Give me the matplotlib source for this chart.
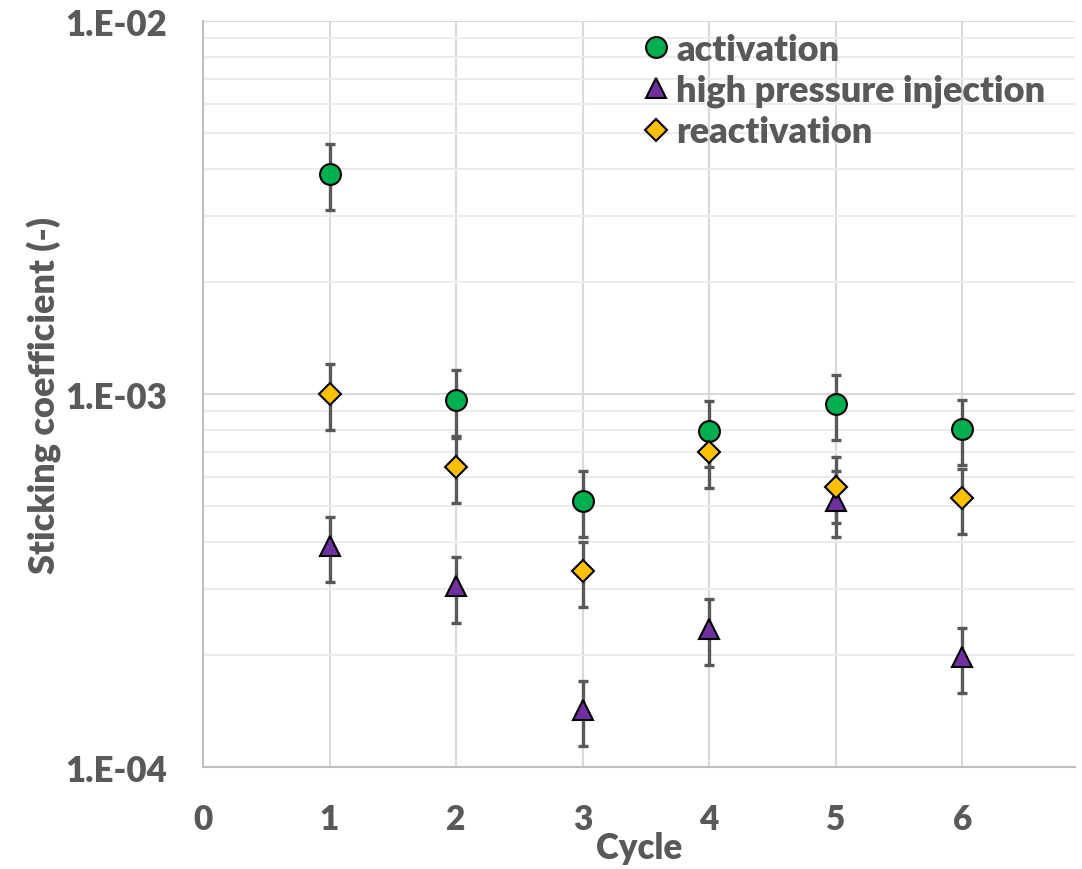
import numpy as np
import matplotlib
matplotlib.use("Agg")
import matplotlib.pyplot as plt
import matplotlib.ticker as mticker

plt.rcParams['font.family'] = ['Lato', 'DejaVu Sans']
plt.rcParams['font.weight'] = 'heavy'

cycles = [1, 2, 3, 4, 5, 6]
activation = [3.89e-3, 9.64e-4, 5.17e-4, 7.96e-4, 9.40e-4, 8.05e-4]
hp_injection = [3.91e-4, 3.05e-4, 1.42e-4, 2.35e-4, 5.17e-4, 1.97e-4]
reactivation = [1.00e-3, 6.37e-4, 3.35e-4, 6.98e-4, 5.64e-4, 5.26e-4]
rel_err = 0.20  # +/- 20 %

series = [
    ("activation", activation, 'o', '#00B050', 15),
    ("high pressure injection", hp_injection, '^', '#7030A0', 15),
    ("reactivation", reactivation, 'D', '#FFC000', 11),
]

TXT = '#595959'
GRID = '#d9d9d9'

fig = plt.figure(figsize=(10.82, 8.70), dpi=100)
ax = fig.add_axes([0.1876, 0.1172, 0.8059, 0.8575])

for label, vals, mk, col, ms in series:
    v = np.asarray(vals)
    ax.errorbar(cycles, v, yerr=rel_err * v, fmt='none', ecolor=TXT,
                elinewidth=2.4, capsize=3.5, capthick=2.4, zorder=2)
for label, vals, mk, col, ms in series:
    ax.plot(cycles, vals, linestyle='none', marker=mk, markersize=ms,
            markerfacecolor=col, markeredgecolor='black', markeredgewidth=1.5,
            label=label, zorder=3)

ax.set_yscale('log')
ax.set_ylim(1e-4, 1e-2)
ax.set_xlim(0, 6.89)
ax.set_xticks(range(0, 7))
ax.yaxis.set_major_locator(mticker.LogLocator(base=10, numticks=5))
ax.yaxis.set_minor_locator(mticker.LogLocator(base=10, subs=np.arange(2, 10), numticks=20))
ax.yaxis.set_major_formatter(mticker.FuncFormatter(
    lambda v, p: "1.E-%02d" % round(-np.log10(v))))
ax.yaxis.set_minor_formatter(mticker.NullFormatter())

ax.grid(True, which='major', color=GRID, linewidth=1.5, zorder=0)
ax.grid(True, which='minor', axis='y', color='#ececec', linewidth=1.5, zorder=0)
ax.set_axisbelow(True)

for s in ['top', 'right']:
    ax.spines[s].set_visible(False)
for s in ['left', 'bottom']:
    ax.spines[s].set_color('#bfbfbf')
    ax.spines[s].set_linewidth(1.5)

ax.tick_params(axis='both', which='both', length=0, colors=TXT)
ax.tick_params(axis='y', labelsize=25, pad=26)
ax.tick_params(axis='x', labelsize=24, pad=26)

ax.set_xlabel("Cycle", fontsize=25, color=TXT, fontweight='heavy', labelpad=-3)
ax.set_ylabel("Sticking coefficient (-)", fontsize=26, color=TXT,
              fontweight='heavy', labelpad=2)

leg = ax.legend(loc='upper left', bbox_to_anchor=(0.47, 1.018), frameon=False,
                fontsize=26, handletextpad=0.05, labelspacing=0.22,
                borderaxespad=0.3, handlelength=1.0)
for t in leg.get_texts():
    t.set_color(TXT)

fig.savefig("out.png", dpi=100)
